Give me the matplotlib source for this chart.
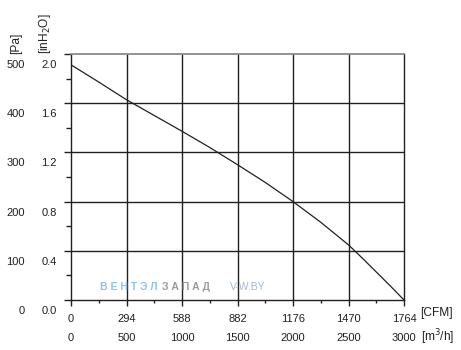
import matplotlib
matplotlib.use("Agg")
import matplotlib.pyplot as plt
from matplotlib.transforms import offset_copy
from matplotlib.ticker import FixedLocator

plt.rcParams['font.family'] = ['Liberation Sans', 'DejaVu Sans']

# Data
flow_m3h = [0, 250, 500, 750, 1000, 1250, 1500, 1750, 2000, 2250, 2500, 2625, 2750, 2875, 3000]
pressure_pa = [478, 443, 407, 375, 343, 310, 275, 239, 200, 158, 112, 85, 57, 29, 0]

pa_ticks = [0, 100, 200, 300, 400, 500]
inh2o_labels = ["0.0", "0.4", "0.8", "1.2", "1.6", "2.0"]
m3h_ticks = [0, 500, 1000, 1500, 2000, 2500, 3000]
cfm_labels = ["0", "294", "588", "882", "1176", "1470", "1764"]

dark = "#231f20"
fs = 8

fig = plt.figure(figsize=(4.61, 3.50), dpi=100)
ax = fig.add_axes([71/461, 50/350, 333/461, 246/350])
ax.set_xlim(0, 3000)
ax.set_ylim(0, 500)

# grid
for v in pa_ticks[1:-1]:
    ax.axhline(v, color=dark, lw=1.0, zorder=1)
for v in m3h_ticks[1:-1]:
    ax.axvline(v, color=dark, lw=1.0, zorder=1)

ax.plot(flow_m3h, pressure_pa, color=dark, lw=0.9, zorder=3)

for s in ['left', 'bottom', 'right']:
    ax.spines[s].set_color(dark)
    ax.spines[s].set_linewidth(1.0)
ax.spines['top'].set_color("#8a8a8a")
ax.spines['top'].set_linewidth(1.3)

ax.set_xticks(m3h_ticks)
ax.set_yticks(pa_ticks)
ax.xaxis.set_minor_locator(FixedLocator([250, 750, 1250, 1750, 2250, 2750]))
ax.yaxis.set_minor_locator(FixedLocator([50, 150, 250, 350, 450]))
ax.tick_params(axis='both', which='both', direction='out', colors=dark,
               labelbottom=False, labelleft=False)
ax.tick_params(axis='y', which='major', length=5, width=1.0)
ax.tick_params(axis='y', which='minor', length=3.5, width=1.0)
ax.tick_params(axis='x', which='major', length=4.5, width=1.0)
ax.tick_params(axis='x', which='minor', length=2.5, width=1.0)

# y labels (shifted below their ticks as in the reference)
yt = ax.get_yaxis_transform()
t_pa = offset_copy(yt, fig=fig, x=-46, y=-11, units='dots')
t_in = offset_copy(yt, fig=fig, x=-14, y=-11, units='dots')
for v, lab in zip(pa_ticks, inh2o_labels):
    ax.text(0, v, str(v), transform=t_pa, ha='right', va='center', fontsize=fs, color=dark)
    ax.text(0, v, lab, transform=t_in, ha='right', va='center', fontsize=fs, color=dark)

# x labels
xt = ax.get_xaxis_transform()
t_cfm = offset_copy(xt, fig=fig, x=0, y=-19, units='dots')
t_m3 = offset_copy(xt, fig=fig, x=0, y=-38, units='dots')
for v, lab in zip(m3h_ticks, cfm_labels):
    ax.text(v, 0, lab, transform=t_cfm, ha='center', va='center', fontsize=fs, color=dark)
    ax.text(v, 0, str(v), transform=t_m3, ha='center', va='center', fontsize=fs, color=dark)

# unit labels
ufs = 8.6
fig.text(16/461, 1 - 54/350, "[Pa]", rotation=90, ha='center', va='bottom', fontsize=ufs, color=dark)
fig.text(45/461, 1 - 54/350, "[inH$_2$O]", rotation=90, ha='center', va='bottom', fontsize=ufs, color=dark)
fig.text(420/461, 1 - 313/350, "[CFM]", ha='left', va='center', fontsize=ufs, color=dark)
fig.text(421/461, 1 - 337/350, "[m$^3$/h]", ha='left', va='center', fontsize=ufs, color=dark)

# watermark
fig.text(100/461, 1 - 287/350, "В Е Н Т Э Л", ha='left', va='center', fontsize=7.5,
         fontweight='bold', color="#8cc3e8")
fig.text(162/461, 1 - 287/350, "З А П А Д", ha='left', va='center', fontsize=7.5,
         fontweight='bold', color="#9a9a9a")
fig.text(230/461, 1 - 287/350, "V-W.BY", ha='left', va='center', fontsize=7.5,
         color="#a8b8cc")

fig.savefig("out.png", dpi=100)
